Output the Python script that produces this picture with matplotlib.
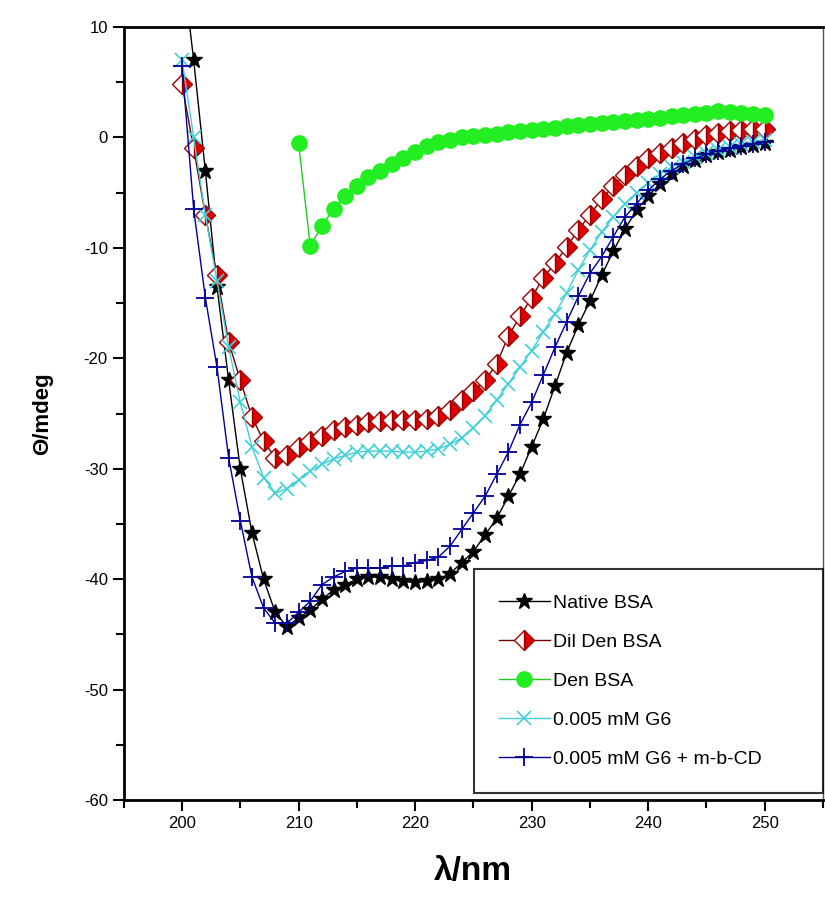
import matplotlib
matplotlib.use("Agg")
import matplotlib.pyplot as plt
from matplotlib.ticker import MultipleLocator

plt.rcParams['font.family'] = ['Liberation Sans', 'DejaVu Sans']
plt.rcParams['axes.unicode_minus'] = False

# wavelength (nm), 1 nm steps
wl = list(range(200, 251))
wl_den = list(range(210, 251))

native = [16, 7, -3, -13.5, -22, -30, -35.8, -40, -43, -44.3,
          -43.5, -42.8, -41.8, -41, -40.5, -40, -39.8, -39.8, -40, -40.2,
          -40.3, -40.2, -40, -39.5, -38.5, -37.5, -36, -34.5, -32.5, -30.5,
          -28, -25.5, -22.5, -19.5, -17, -14.8, -12.5, -10.3, -8.3, -6.6,
          -5.3, -4.2, -3.3, -2.6, -2, -1.6, -1.3, -1.1, -0.9, -0.7, -0.5]

dil_den = [4.8, -1, -7, -12.5, -18.5, -22, -25.3, -27.5, -29, -28.8,
           -28, -27.5, -27, -26.5, -26.2, -26, -25.8, -25.7, -25.6, -25.6,
           -25.6, -25.5, -25.2, -24.7, -23.8, -23, -22, -20.5, -18, -16.2,
           -14.5, -12.7, -11.4, -9.9, -8.4, -7, -5.6, -4.4, -3.4, -2.6,
           -1.9, -1.4, -1, -0.5, -0.1, 0.2, 0.4, 0.6, 0.7, 0.8, 0.8]

den = [-0.5, -9.8, -8, -6.5, -5.3, -4.4, -3.6, -3, -2.4, -1.9,
       -1.3, -0.8, -0.4, -0.2, 0, 0.1, 0.2, 0.3, 0.5, 0.6,
       0.7, 0.8, 0.9, 1, 1.1, 1.2, 1.3, 1.4, 1.5, 1.6,
       1.7, 1.8, 1.9, 2, 2.1, 2.2, 2.4, 2.3, 2.2, 2.1, 2]

g6 = [7, 0, -7, -13, -19, -24, -28, -30.8, -32.2, -31.8,
      -31, -30.2, -29.6, -29.1, -28.8, -28.5, -28.4, -28.4, -28.4, -28.5,
      -28.5, -28.4, -28.2, -27.8, -27.2, -26.3, -25.2, -23.8, -22.3, -20.8,
      -19.3, -17.6, -16, -14.1, -12, -10.2, -8.6, -7.2, -6, -5,
      -4.1, -3.3, -2.7, -2.2, -1.8, -1.4, -1.1, -0.9, -0.6, -0.4, -0.2]

g6_cd = [6.5, -6.5, -14.5, -20.8, -29, -34.7, -39.8, -42.6, -44, -44,
         -43, -42, -40.5, -39.8, -39.3, -39, -39, -39, -38.8, -38.8,
         -38.5, -38.3, -38, -37, -35.5, -34, -32.5, -30.5, -28.5, -26,
         -24, -21.5, -19, -16.7, -14.4, -12.3, -10.8, -9, -7.2, -6,
         -4.8, -3.8, -3, -2.4, -1.9, -1.5, -1.2, -1, -0.8, -0.6, -0.4]

labels = ["Native BSA", "Dil Den BSA", "Den BSA", "0.005 mM G6",
          "0.005 mM G6 + m-b-CD"]

fig = plt.figure(figsize=(8.25, 9.16), dpi=100)
ax = fig.add_axes([0.150, 0.1266, 0.8476, 0.8439])

ax.plot(wl, native, color='black', lw=1, marker='*', ms=12,
        mfc='black', mec='black', label=labels[0])
ax.plot(wl, dil_den, color='#700000', lw=1, marker='D', ms=10,
        fillstyle='right', mfc='#e00000', mfcalt='white', mec='#a00000',
        label=labels[1])
ax.plot(wl_den, den, color='#22cc22', lw=1, marker='o', ms=11,
        mfc='#22ee22', mec='#22ee22', label=labels[2])
ax.plot(wl, g6, color='#40d0d8', lw=1, marker='x', ms=10, mew=1.2,
        label=labels[3])
ax.plot(wl, g6_cd, color='#000099', lw=1, marker='+', ms=13, mew=1.3,
        label=labels[4])

ax.set_xlim(195, 255)
ax.set_ylim(-60, 10)
ax.xaxis.set_major_locator(MultipleLocator(10))
ax.xaxis.set_minor_locator(MultipleLocator(5))
ax.yaxis.set_major_locator(MultipleLocator(10))
ax.yaxis.set_minor_locator(MultipleLocator(5))
ax.tick_params(which='both', direction='out', width=1.5, labelsize=12,
               top=False, right=False)
ax.tick_params(which='major', length=8)
ax.tick_params(which='minor', length=6)

for side in ['left', 'bottom', 'top']:
    ax.spines[side].set_linewidth(2)
ax.spines['right'].set_linewidth(1)
ax.spines['right'].set_color('#555555')

ax.set_ylabel("Θ/mdeg", fontsize=16, fontweight='bold', labelpad=22)
ax.set_xlabel("λ/nm", fontsize=24, fontweight='bold', labelpad=18)

leg = ax.legend(loc='lower left', mode='expand',
                bbox_to_anchor=(0.5007, 0.009, 0.4993, 0.291),
                fontsize=14, frameon=True, fancybox=False, shadow=False,
                borderaxespad=0, borderpad=1.3, handlelength=2.6,
                handletextpad=0.15, labelspacing=1.1)
leg.get_frame().set_edgecolor('black')
leg.get_frame().set_linewidth(1.5)

fig.savefig("out.png", dpi=100)
